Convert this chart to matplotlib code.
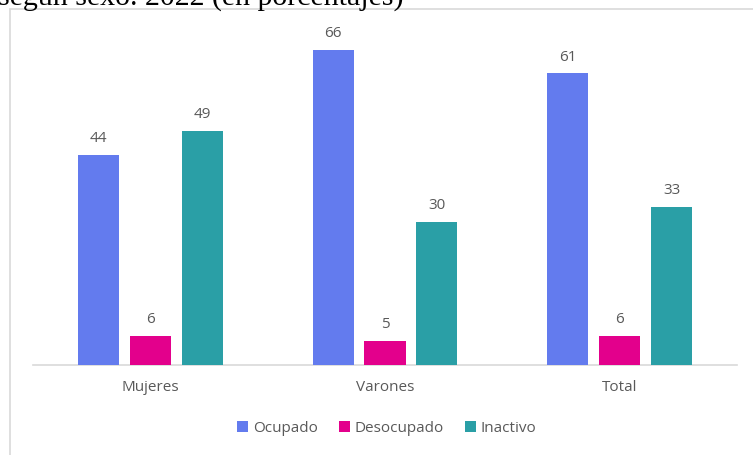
import matplotlib.pyplot as plt
import matplotlib.patches as mpatches
import numpy as np

# Data (percentages)
categories = ['Mujeres', 'Varones', 'Total']
ocupado = [44, 66, 61]
desocupado = [6, 5, 6]
inactivo = [49, 30, 33]
series_names = ['Ocupado', 'Desocupado', 'Inactivo']
colors = ['#637BEE', '#E3008C', '#2A9FA6']

plt.rcParams['font.family'] = ['Open Sans', 'DejaVu Sans']

W, H = 753, 456
fig = plt.figure(figsize=(W / 100, H / 100), dpi=100)

# chart frame (cut by the image edges on right and bottom)
frame = mpatches.Rectangle((10 / W, -0.1), 1.2, 1 - 10 / H + 0.1, transform=fig.transFigure,
                           fill=False, edgecolor='#D9D9D9', linewidth=1.2)
fig.patches.append(frame)

# cropped title from the surrounding document
fig.text(-2 / W, 1 - 4.5 / H, 'según sexo. 2022 (en porcentajes)', family='Liberation Serif',
         fontsize=21.5, color='black', ha='left', va='baseline')

ax = fig.add_axes([33 / W, 90 / H, 704 / W, 356 / H])

x = np.arange(len(categories))
width = 0.175
pitch = 0.221
gray = '#595959'

for i, (name, vals) in enumerate(zip(series_names, [ocupado, desocupado, inactivo])):
    pos = x + (i - 1) * pitch
    bars = ax.bar(pos, vals, width, color=colors[i], label=name, zorder=3)
    for b, v in zip(bars, vals):
        ax.annotate(str(v), (b.get_x() + b.get_width() / 2, v), xytext=(0, 10),
                    textcoords='offset points', ha='center', va='baseline',
                    fontsize=11, color=gray)

ax.set_xlim(-0.5, 2.5)
ax.set_ylim(0, 356 / 4.78)
ax.set_xticks(x)
ax.set_xticklabels(categories, fontsize=11, color=gray)
ax.tick_params(axis='x', length=0, pad=10)
ax.set_yticks([])
for s in ['top', 'right', 'left']:
    ax.spines[s].set_visible(False)
ax.spines['bottom'].set_color('#D9D9D9')
ax.spines['bottom'].set_linewidth(1.2)

leg = fig.legend(loc='center', bbox_to_anchor=(387 / W, 27 / H), ncol=3, frameon=False,
                 handlelength=0.7, handleheight=0.7, handletextpad=0.35, columnspacing=1.35,
                 fontsize=11)
for t in leg.get_texts():
    t.set_color(gray)

fig.savefig('out.png', dpi=100)
